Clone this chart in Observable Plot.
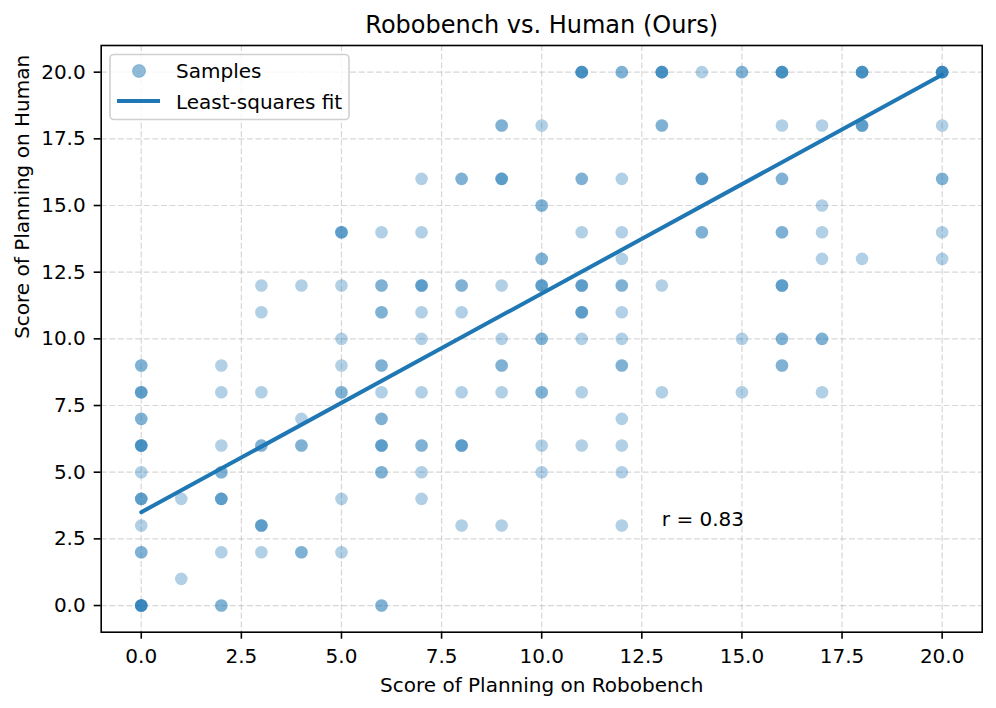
<!DOCTYPE html>
<html>
<head>
<meta charset="utf-8">
<script src="https://cdn.jsdelivr.net/npm/d3@7"></script>
<script src="https://cdn.jsdelivr.net/npm/@observablehq/plot@0.6"></script>
<style>
  body { margin: 0; background: white; }
  #chart { width: 996px; height: 708px; }
  svg { font-family: "DejaVu Sans", sans-serif; }
</style>
</head>
<body>
<div id="chart"></div>
<script>
// Sample positions (Robobench score, Human score) and how many samples overlap there
const sampleX = [
  0,0,0,0,0,0,0,0,0,
  1,1,
  2,2,2,2,2,2,2,
  3,3,3,3,3,3,
  4,4,4,4,
  5,5,5,5,5,5,5,
  6,6,6,6,6,6,6,6,6,
  7,7,7,7,7,7,7,7,7,
  8,8,8,8,8,8,
  9,9,9,9,9,9,9,
  10,10,10,10,10,10,10,10,
  11,11,11,11,11,11,11,11,
  12,12,12,12,12,12,12,12,12,12,12,12,
  13,13,13,13,
  14,14,14,
  15,15,15,
  16,16,16,16,16,16,16,
  17,17,17,17,17,17,
  18,18,18,
  20,20,20,20,20
];
const sampleY = [
  9,8,7,6,5,4,3,2,0,
  4,1,
  9,8,6,5,4,2,0,
  12,11,8,6,3,2,
  12,7,6,2,
  14,12,10,9,8,4,2,
  14,12,11,9,8,7,6,5,0,
  16,14,12,11,10,8,6,5,4,
  16,12,11,8,6,3,
  18,16,12,10,9,8,3,
  18,15,13,12,10,8,6,5,
  20,16,14,12,11,10,8,6,
  20,16,14,13,12,11,10,9,7,6,5,3,
  20,18,12,8,
  20,16,14,
  20,10,8,
  20,18,16,14,12,10,9,
  18,15,14,13,10,8,
  20,18,13,
  20,18,16,14,13
];
const sampleCount = [
  2,3,2,4,1,3,1,2,5,
  1,1,
  1,1,1,2,3,1,2,
  1,1,1,2,3,1,
  1,1,2,2,
  3,1,1,1,2,1,1,
  1,2,2,2,1,2,3,2,2,
  1,1,3,1,1,1,2,1,1,
  2,2,1,1,3,1,
  2,3,1,1,2,1,1,
  1,2,2,3,2,2,1,1,
  4,2,1,3,3,1,1,1,
  2,1,1,1,2,1,1,2,1,1,1,1,
  4,2,1,1,
  1,3,2,
  2,1,1,
  4,1,2,2,3,2,2,
  1,1,1,1,2,1,
  4,3,1,
  5,1,2,1,1
];
// Least-squares fit line end points
const fitX = [0, 20];
const fitY = [3.5, 19.9];
const tickValues = [0, 2.5, 5, 7.5, 10, 12.5, 15, 17.5, 20];
const titleText = "Robobench vs. Human (Ours)";
const xLabel = "Score of Planning on Robobench";
const yLabel = "Score of Planning on Human";
const rText = "r = 0.83";
const rPos = {x: 13, y: 3};
const legendLabels = ["Samples", "Least-squares fit"];

const samples = [];
sampleX.forEach((x, i) => {
  for (let k = 0; k < sampleCount[i]; k++) samples.push({x, y: sampleY[i]});
});
const fit = fitX.map((x, i) => ({x, y: fitY[i]}));

const blue = "#1f77b4";
const fmt = d3.format(".1f");
const W = 996, H = 708;
const mL = 100.7, mR = 14.3, mT = 45, mB = 76.3;

const chart = Plot.plot({
  width: W, height: H,
  marginLeft: mL, marginRight: mR, marginTop: mT, marginBottom: mB,
  style: {fontFamily: "DejaVu Sans, sans-serif", background: "white"},
  x: {domain: [-1, 21]},
  y: {domain: [-1, 21]},
  marks: [
    Plot.gridX(tickValues, {stroke: "#b0b0b0", strokeOpacity: 0.5, strokeWidth: 1.2, strokeDasharray: "6,2.6"}),
    Plot.gridY(tickValues, {stroke: "#b0b0b0", strokeOpacity: 0.5, strokeWidth: 1.2, strokeDasharray: "6,2.6"}),
    Plot.dot(samples, {x: "x", y: "y", r: 6.3, fill: blue, fillOpacity: 0.35, stroke: "none"}),
    Plot.line(fit, {x: "x", y: "y", stroke: blue, strokeWidth: 4}),
    Plot.frame({stroke: "black", strokeWidth: 1.6}),
    Plot.axisX(tickValues, {tickSize: 7, tickPadding: 10, fontSize: 20, tickFormat: fmt, label: null, stroke: "black", strokeWidth: 1.6, fill: "black"}),
    Plot.axisY(tickValues, {tickSize: 7, tickPadding: 8.5, fontSize: 20, tickFormat: fmt, label: null, stroke: "black", strokeWidth: 1.6, fill: "black"}),
    Plot.text([titleText], {frameAnchor: "top", dy: -12.5, lineAnchor: "bottom", fontSize: 24, fill: "black"}),
    Plot.text([xLabel], {frameAnchor: "bottom", dy: 59.3, lineAnchor: "bottom", fontSize: 20, fill: "black"}),
    Plot.text([yLabel], {frameAnchor: "left", dx: -72.7, rotate: -90, lineAnchor: "bottom", fontSize: 20, fill: "black"}),
    Plot.text([rPos], {x: "x", y: "y", text: () => rText, textAnchor: "start", lineAnchor: "bottom", fontSize: 20, fill: "black"})
  ]
});
document.getElementById("chart").appendChild(chart);

// Legend (upper left, inside the frame)
const svg = d3.select(chart);
const lg = svg.append("g")
  .attr("text-anchor", "start")
  .style("font-family", "DejaVu Sans, sans-serif")
  .style("font-size", "20px");
lg.append("rect").attr("x", 110).attr("y", 54.5).attr("width", 239).attr("height", 65).attr("rx", 4)
  .attr("fill", "white").attr("fill-opacity", 0.8).attr("stroke", "#d0d0d0").attr("stroke-width", 1.6);
lg.append("circle").attr("cx", 139).attr("cy", 71).attr("r", 6.5)
  .attr("fill", blue).attr("fill-opacity", 0.5).attr("stroke", blue).attr("stroke-opacity", 0.3).attr("stroke-width", 1.2);
lg.append("line").attr("x1", 117).attr("x2", 160).attr("y1", 101).attr("y2", 101)
  .attr("stroke", blue).attr("stroke-width", 4);
lg.append("text").attr("x", 176).attr("y", 77.5).attr("fill", "black")
  .style("font-size", "20px").style("text-anchor", "start").text(legendLabels[0]);
lg.append("text").attr("x", 176).attr("y", 108.5).attr("fill", "black")
  .style("font-size", "20px").style("text-anchor", "start").text(legendLabels[1]);
</script>
</body>
</html>
